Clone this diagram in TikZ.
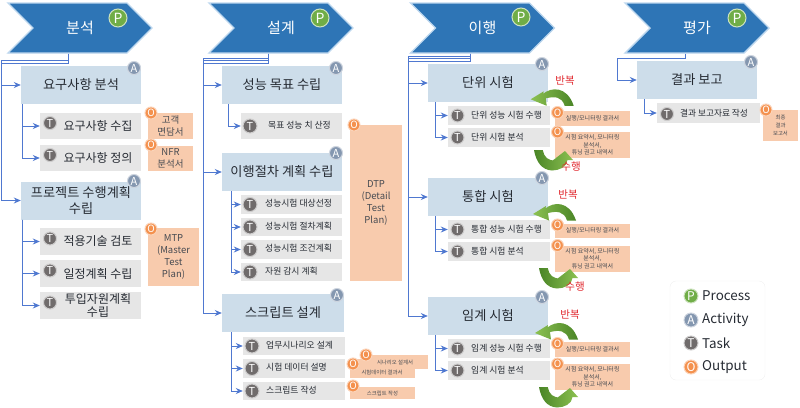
\documentclass[tikz,border=0pt]{standalone}
\usepackage{fontspec}
\setmainfont{Noto Sans CJK KR}
\usetikzlibrary{positioning, arrows.meta, calc, shapes.symbols}

\definecolor{procblue}{HTML}{2E75B6}
\definecolor{procedge}{HTML}{BDD7EE}
\definecolor{actfill}{HTML}{CDDDEA}
\definecolor{taskfill}{HTML}{E6E6E6}
\definecolor{outfill}{HTML}{F8CBAD}
\definecolor{busblue}{HTML}{4F78D0}
\definecolor{inkdark}{HTML}{262B33}
\definecolor{redlabel}{HTML}{E0252B}
\definecolor{pgreen}{HTML}{70AD47}
\definecolor{aslate}{HTML}{8497B0}
\definecolor{tgray}{HTML}{706C6C}
\definecolor{oorange}{HTML}{F4914E}
\definecolor{leafpale}{HTML}{8CC152}
\definecolor{leafdark}{HTML}{4A8526}

\tikzset{
  procbox/.style={shape=signal, signal from=west, signal to=east, signal pointer angle=90,
    fill=procblue, draw=procedge, line width=1.4pt, minimum width=144pt, minimum height=50pt,
    inner sep=0pt, text=white, font=\fontsize{15}{17}\selectfont},
  actbox/.style={fill=actfill, minimum width=120pt, minimum height=38pt, inner sep=0pt,
    align=center, text=inkdark, font=\fontsize{13.2}{15.5}\selectfont},
  taskbox/.style={fill=taskfill, inner sep=0pt},
  tasklabel/.style={inner sep=0pt, align=center, text=inkdark},
  outbox/.style={fill=outfill, inner sep=0pt, align=center, text=inkdark!85},
  badge/.style={circle, inner sep=0pt, line width=1pt, text=white, font=\fontsize{11}{11}\selectfont},
  pbadge/.style={badge, fill=pgreen, draw=pgreen!35!white, minimum size=18pt, font=\fontsize{14}{14}\selectfont},
  abadge/.style={badge, fill=aslate, draw=aslate!40!white, minimum size=13pt},
  tbadge/.style={badge, fill=tgray, draw=tgray!35!white, minimum size=13pt},
  obadge/.style={badge, fill=oorange, draw=oorange!40!white, minimum size=12pt, font=\fontsize{10}{10}\selectfont},
  conn/.style={->, busblue, line width=0.8pt},
  redtext/.style={inner sep=0pt, text=redlabel, font=\fontsize{10.5}{12}\selectfont},
  repeatarrow/.pic={
    \path[left color=leafpale, right color=leafdark]
      (0,0) -- (13,-8) -- (12.5,-5.5) .. controls (20,-12) and (36,-14) .. (43,6.5) -- (34,6.5)
      .. controls (31,-3) and (24,-3) .. (15,-1) -- (16,6.5) -- cycle;
  },
  forwardarrow/.pic={
    \path[left color=leafdark, right color=leafpale]
      (0,0) -- (8.7,0) .. controls (10,7) and (14,11) .. (22,10.5) -- (18,11) -- (31,1) -- (39,10) -- (33.5,10)
      .. controls (33,17) and (25,20.5) .. (18,20.5) .. controls (8,20) and (2,12) .. (0,0) -- cycle;
  }
}

\begin{document}
\begin{tikzpicture}[x=1pt, y=-1pt, >={Stealth[length=7pt,width=6pt]}]
\useasboundingbox (0,0) rectangle (800,407);

% ---------- process chevrons ----------
\foreach \n/\x/\t/\bx/\by in {pa/80/분석/118/18, pb/281/설계/320/18, pc/482.5/이행/521/17, pd/697/평가/737/18}{
  \node[procbox] (\n) at (\x,28) {\t};
  \node[pbadge] (b\n) at (\bx,\by) {P};
}

% ---------- bus corners ----------
\coordinate (busa)  at (1,60);
\coordinate (busaa) at (1,63);
\coordinate (busb)  at (203,58);
\coordinate (busbb) at (203,60.5);
\coordinate (busbc) at (203,63);
\coordinate (busc)  at (408,56);
\coordinate (buscc) at (408,58.5);
\coordinate (busccc) at (408,61);
\coordinate (busd)  at (617.5,58);

% ---------- 분석 ----------
\node[actbox] (aa) at (81,85) {요구사항 분석};
\node[actbox] (ab) at (81,200.5) {프로젝트 수행계획\\수립};
\node[abadge] (baa) at (134,68) {A};
\node[abadge] (bab) at (134,181) {A};
\foreach \n/\y/\h/\t in {ta/126/26/{요구사항 수집}, tb/158/26/{요구사항 정의}, tc/241.5/27/{적용기술 검토},
    td/273.5/27/{일정계획 수립}, te/305.5/27/{투입자원계획\\수립}}{
  \node[taskbox, minimum width=101pt, minimum height=\h pt] (\n) at (90.5,\y) {};
  \node[tasklabel, font=\fontsize{12}{13.5}\selectfont] (x\n) at (98,\y) {\t};
  \node[tbadge] (i\n) at (50,\y-3) {T};
}
\foreach \n/\x/\y/\w/\h/\ix/\iy/\t in {oa/170.5/126/45/26/151/113/{고객\\면담서}, ob/170.5/158.5/45/25/151/145/{NFR\\분석서},
    oc/173.5/257/51/58/151/229/{MTP\\(Master\\Test\\Plan)}}{
  \node[outbox, minimum width=\w pt, minimum height=\h pt, font=\fontsize{9.5}{12}\selectfont] (\n) at (\x,\y) {\t};
  \node[obadge] (i\n) at (\ix,\iy) {O};
}
\draw[conn] ([xshift=-12]pa.south) |- (busa) |- (aa.west);
\draw[conn] ([xshift=-12]pa.south) |- (busaa) |- (ab.west);
\foreach \t in {ta,tb}{\draw[conn] ([xshift=2]aa.south west) |- (\t.west);}
\foreach \t in {tc,td,te}{\draw[conn] ([xshift=2]ab.south west) |- (\t.west);}

% ---------- 설계 ----------
\node[actbox] (ac) at (282,85) {성능 목표 수립};
\node[actbox] (ad) at (282,172) {이행절차 계획 수립};
\node[actbox, minimum width=122pt] (ae) at (283,313) {스크립트 설계};
\node[abadge] (bac) at (336,68) {A};
\node[abadge] (bad) at (336,153) {A};
\node[abadge] (bae) at (337,295) {A};
\foreach \n/\y/\h/\t in {tf/126/26/{\hspace*{3pt}목표 성능 치 산정}, tg/204.5/19/{성능시험 대상선정}, th/227/18/{성능시험 절차계획},
    ti/249.5/19/{성능시험 조건계획}, tj/272/18/{자원 감시 계획}}{
  \node[taskbox, minimum width=101pt, minimum height=\h pt] (\n) at (291.5,\y) {};
  \node[tasklabel, font=\fontsize{8.8}{10}\selectfont, anchor=west] (x\n) at (265,\y-1) {\t};
  \node[tbadge, minimum size=14pt] (i\n) at (250,\y) {T};
}
\foreach \n/\y/\t in {tk/346/{업무시나리오 설계}, tl/368.5/{시험 데이터 설명}, tm/391/{스크립트 작성}}{
  \node[taskbox, minimum width=102pt, minimum height=18.5pt] (\n) at (294,\y) {};
  \node[tasklabel, font=\fontsize{8.8}{10}\selectfont, anchor=west] (x\n) at (266,\y-1) {\t};
  \node[tbadge, minimum size=14pt] (i\n) at (252,\y) {T};
}
\node[outbox, minimum width=52pt, minimum height=156pt, font=\fontsize{9.5}{12}\selectfont] (od) at (376,203) {DTP\\(Detail\\Test\\Plan)};
\node[obadge] (iod) at (354,125) {O};
\node[outbox, minimum width=65pt, minimum height=19pt] (oe) at (382.5,368.5) {};
\node[obadge] (ioe) at (353,364) {O};
\node[outbox, minimum width=66pt, minimum height=14pt, font=\fontsize{5.4}{7}\selectfont] (of) at (395,362) {시나리오 설계서};
\node[tasklabel, text=inkdark!85, font=\fontsize{5.4}{7}\selectfont] (xoe) at (382,372.5) {시험데이터 결과서};
\node[obadge] (iof) at (366,355) {O};
\node[outbox, minimum width=65pt, minimum height=12pt, font=\fontsize{5.4}{7}\selectfont] (og) at (382.5,393) {스크립트 작성};
\node[obadge] (iog) at (353,386) {O};
\draw[conn] ([xshift=-13]pb.south) |- (busb) |- (ac.west);
\draw[conn] ([xshift=-13]pb.south) |- (busbb) |- (ad.west);
\draw[conn] ([xshift=-13]pb.south) |- (busbc) |- (ae.west);
\draw[conn] ([xshift=7]ac.south west) |- (tf.west);
\foreach \t in {tg,th,ti,tj}{\draw[conn] ([xshift=10]ad.south west) |- (\t.west);}
\foreach \t in {tk,tl,tm}{\draw[conn] ([xshift=10]ae.south west) |- (\t.west);}

% ---------- 이행 ----------
\foreach \g/\w/\ya/\yt/\yu/\yo/\yp in {u/단위/83/115.5/137.5/118.5/145, v/통합/197/229.5/251.5/231/258.5, w/임계/316/348.5/370.5/349.5/377}{
  \node[actbox] (a\g) at (488,\ya) {\w\ 시험};
  \node[abadge] (ba\g) at (542,\ya-19) {A};
  \node[taskbox, minimum width=102pt, minimum height=19pt] (t\g) at (499,\yt) {};
  \node[tasklabel, font=\fontsize{8.8}{10}\selectfont, anchor=west] (xt\g) at (471,\yt) {\w\ 성능 시험 수행};
  \node[tbadge] (it\g) at (457.5,\yt) {T};
  \node[taskbox, minimum width=102pt, minimum height=19pt] (s\g) at (499,\yu) {};
  \node[tasklabel, font=\fontsize{8.8}{10}\selectfont, anchor=west] (xs\g) at (471,\yu) {\w\ 시험 분석};
  \node[tbadge] (is\g) at (457.5,\yu) {T};
  \node[outbox, minimum width=75pt, minimum height=14.5pt, font=\fontsize{6}{7.5}\selectfont] (o\g) at (592.5,\yo) {실행/모니터링 결과서};
  \node[obadge] (io\g) at (557.5,\yo-6) {O};
  \node[outbox, minimum width=75pt, minimum height=26pt, font=\fontsize{6}{7.6}\selectfont] (q\g) at (592.5,\yp) {시험 요약서, 모니터링\\분석서,\\튜닝 권고 내역서};
  \node[obadge] (iq\g) at (557.5,\yp-13) {O};
  \draw[conn] ([xshift=8]a\g.south west) |- (t\g.west);
  \draw[conn] ([xshift=8]a\g.south west) |- (s\g.west);
}
\draw[conn] ([xshift=-12.5]pc.south) |- (busc) |- (au.west);
\draw[conn] ([xshift=-12.5]pc.south) |- (buscc) |- (av.west);
\draw[conn] ([xshift=-12.5]pc.south) |- (busccc) |- (aw.west);

% ---------- loop arrows ----------
\pic at (530.7,99.3) {repeatarrow};
\pic at (533,214) {repeatarrow};
\pic at (535,333) {repeatarrow};
\pic at (534,150) {forwardarrow};
\pic at (539,268) {forwardarrow};
\pic at (539,387) {forwardarrow};
\node[redtext] (ra) at (565,81) {반복};
\node[redtext] (rb) at (568,195) {반복};
\node[redtext] (rc) at (570,315) {반복};
\node[redtext] (fa) at (571,167) {수행};
\node[redtext] (fb) at (575,287) {수행};

% ---------- 평가 ----------
\node[actbox] (ax) at (697,80) {결과 보고};
\node[abadge] (bax) at (751,62) {A};
\node[taskbox, minimum width=103pt, minimum height=20pt] (tx) at (708.5,113) {};
\node[tasklabel, font=\fontsize{8.7}{10}\selectfont] (xtx) at (714,113) {결과 보고자료 작성};
\node[tbadge] (itx) at (667,114) {T};
\node[outbox, minimum width=35pt, minimum height=31pt, font=\fontsize{5.4}{7.6}\selectfont] (ox) at (780.5,125.5) {최종\\결과\\보고서};
\node[obadge] (iox) at (766,110) {O};
\draw[conn] ([xshift=-12]pd.south) |- (busd) |- (ax.west);
\draw[conn] ([xshift=8]ax.south west) |- (tx.west);

% ---------- legend ----------
\node[draw=black!6, rounded corners=6pt, minimum width=95pt, minimum height=99pt, inner sep=0pt] (lg) at (717.5,330.5) {};
\node[pbadge, minimum size=14pt, font=\fontsize{12}{12}\selectfont] (lp) at (691,296) {P};
\node[abadge, minimum size=14pt, font=\fontsize{12}{12}\selectfont] (la) at (691,320) {A};
\node[tbadge, minimum size=14pt, font=\fontsize{12}{12}\selectfont] (lt) at (691,343) {T};
\node[obadge, minimum size=14pt, font=\fontsize{12}{12}\selectfont] (lo) at (691,367) {O};
\foreach \n/\y/\t in {lp/296/Process, la/320/Activity, lt/343/Task, lo/367/Output}{
  \node[tasklabel, anchor=west, font=\fontsize{13.4}{15}\selectfont] (x\n) at (702,\y) {\t};
}

\end{tikzpicture}
\end{document}
